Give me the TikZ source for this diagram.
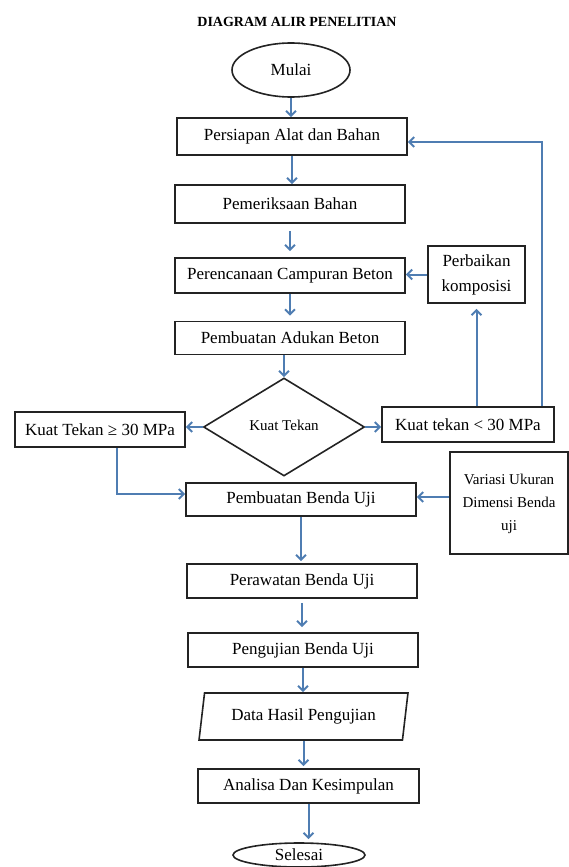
\documentclass[tikz,border=0pt]{standalone}
\usepackage{fontspec}
\setmainfont{Liberation Serif}
\usetikzlibrary{arrows.meta,shapes.geometric,calc}
\definecolor{arr}{RGB}{79,125,178}
\definecolor{edge}{RGB}{35,35,35}
\begin{document}
\begin{tikzpicture}[x=1pt,y=-1pt,
  box/.style={draw=edge,line width=1.6pt,fill=white,minimum width=230pt,minimum height=35pt,inner sep=2pt,font=\fontsize{17}{20}\selectfont},
  term/.style={ellipse,draw=edge,line width=1.6pt,fill=white,inner sep=0pt,font=\fontsize{17}{20}\selectfont},
  conn/.style={draw=arr,line width=2pt,-{Straight Barb[length=5pt,width=10pt]}},
  ]
\useasboundingbox (0,0) rectangle (569,867);
\node[font=\bfseries\fontsize{14}{16}\selectfont] (title) at (297,22) {DIAGRAM ALIR PENELITIAN};
\node[term,minimum width=118pt,minimum height=54pt] (mulai) at (291,70) {Mulai};
\node[box,minimum height=37pt] (persiapan) at (292,136.5) {Persiapan Alat dan Bahan};
\node[box,minimum height=38pt] (pemeriksaan) at (290,204) {Pemeriksaan Bahan};
\node[box] (perencanaan) at (290,275.5) {Perencanaan Campuran Beton};
\node[box,minimum height=33pt] (adukan) at (290,338) {Pembuatan Adukan Beton};
\node[diamond,draw=edge,line width=1.6pt,minimum width=161pt,minimum height=98pt,aspect=1.64,inner sep=0pt,font=\fontsize{15}{18}\selectfont] (tekan) at (284,427) {\raisebox{4pt}{Kuat Tekan}};
\node[box,minimum width=170pt] (ge) at (100,429.5) {Kuat Tekan ≥ 30 MPa};
\node[box,minimum width=172pt] (lt) at (468,424.5) {Kuat tekan < 30 MPa};
\node[box,minimum width=97pt,minimum height=57pt,align=center,font=\fontsize{17}{25}\selectfont] (perbaikan) at (476.5,274.5) {Perbaikan\\komposisi};
\node[box,minimum height=33pt] (benda) at (301,499.5) {Pembuatan Benda Uji};
\node[box,minimum width=118pt,minimum height=102pt,font=\fontsize{15}{23}\selectfont] (variasi) at (509,503) {\raisebox{6pt}{\begin{tabular}{@{}c@{}}Variasi Ukuran\\Dimensi Benda\\uji\end{tabular}}};
\node[box,minimum height=34pt] (perawatan) at (302,581) {Perawatan Benda Uji};
\node[box,minimum height=34pt] (pengujian) at (303,650) {Pengujian Benda Uji};
\node[trapezium,trapezium left angle=78,trapezium right angle=102,trapezium stretches=true,draw=edge,line width=1.6pt,minimum width=209pt,minimum height=47pt,inner sep=2pt,font=\fontsize{17}{20}\selectfont] (data) at (303.5,716.5) {Data Hasil Pengujian};
\node[box,minimum width=221pt,minimum height=34pt] (analisa) at (308.5,786) {Analisa Dan Kesimpulan};
\node[term,minimum width=132pt,minimum height=24pt] (selesai) at (299,855) {Selesai};

\coordinate (c1) at (542,142);
\coordinate (c2) at (117,494);
\coordinate (c3) at (450,497);

\draw[conn] (mulai.south) -- (mulai.south |- persiapan.north);
\draw[conn] (persiapan.south) -- (persiapan.south |- pemeriksaan.north);
\draw[conn,shorten <=7pt,shorten >=6pt] (pemeriksaan.south) -- (pemeriksaan.south |- perencanaan.north);
\draw[conn,shorten >=5pt] (perencanaan.south) -- (perencanaan.south |- adukan.north);
\draw[conn] (tekan.north |- adukan.south) -- (tekan.north);
\draw[conn] (tekan.west) -- (tekan.west -| ge.east);
\draw[conn] (tekan.east) -- (tekan.east -| lt.west);
\draw[conn,shorten >=5pt] (lt.north -| perbaikan.south) -- (perbaikan.south);
\draw[conn] (perbaikan.west) -- (perbaikan.west -| perencanaan.east);
\draw[conn] (lt.north -| c1) -- (c1) -- (c1 -| persiapan.east);
\draw[conn] (c2 |- ge.south) -- (c2) -- (c2 -| benda.west);
\draw[conn] (c3 -| variasi.west) -- (c3 -| benda.east);
\draw[conn,shorten >=2pt] (benda.south) -- (benda.south |- perawatan.north);
\draw[conn,shorten <=4pt,shorten >=5pt] (perawatan.south) -- (perawatan.south |- pengujian.north);
\draw[conn] (pengujian.south) -- (pengujian.south |- data.north);
\draw[conn,shorten >=2pt] (data.south) -- (data.south |- analisa.north);
\draw[conn,shorten >=3pt] (analisa.south) -- (analisa.south |- selesai.north);
\end{tikzpicture}
\end{document}
